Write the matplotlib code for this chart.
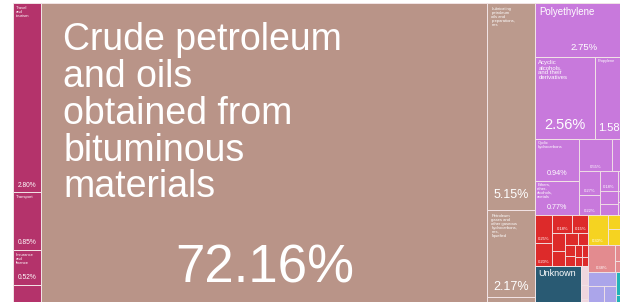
import textwrap
import matplotlib
matplotlib.use("Agg")
import matplotlib.pyplot as plt
from matplotlib.patches import Rectangle

plt.rcParams['font.family'] = ['Liberation Sans', 'DejaVu Sans']

# ============================== Data (share of exports, %) ============================== #
services_names = ["Travel and tourism", "Transport", "Insurance and finance", ""]
services_values = [2.80, 0.85, 0.52, 0.43]

crude_name = "Crude petroleum and oils obtained from bituminous materials"
crude_value = 72.16

fuel_names = ["Lubricating petroleum oils and preparations, nes",
              "Petroleum gases and other gaseous hydrocarbons, nes, liquefied", ""]
fuel_values = [5.15, 2.17, 0.43]

chem_names = ["Polyethylene", "Acyclic alcohols, and their derivatives", "Propylene",
              "Cyclic hydrocarbons", "Ethers, ether-alcohols, acetals"]
chem_values = [2.75, 2.56, 1.58, 0.94, 0.77]
chem_small_values = [0.55, 0.35, 0.27, 0.22, 0.18, 0.15, 0.12, 0.10, 0.08, 0.06, 0.04]

red_values = [0.25, 0.20, 0.18, 0.15, 0.12, 0.10, 0.08, 0.07, 0.06, 0.05, 0.04, 0.04, 0.03, 0.03]
unknown_value = 1.14
misc_values = [0.08, 0.06, 0.04, 0.02]
yellow_values = [0.30, 0.18, 0.12, 0.09]
salmon_values = [0.38, 0.14, 0.10]
lavender_values = [0.20, 0.13, 0.10, 0.08, 0.05, 0.04]
teal_values = [0.20, 0.16]

# colours
c_services = "#b4336b"
c_crude = "#b99488"
c_fuel = "#bb9a8d"
c_chem = "#c879dc"
c_red = "#dd2a2a"
c_yellow = "#f5d321"
c_salmon = "#e38b8f"
c_unknown = "#295a73"
c_misc = "#efd6de"
c_lavender = "#aba5ea"
c_teal = "#22b3b8"

PX = 100 / 72  # pixels per point
X_EDGE = 620


# ============================== Layout helpers ============================== #
def split(rect, values, horizontal):
    x, y, w, h = rect
    total = sum(values)
    out = []
    for v in values:
        if horizontal:
            dw = w * v / total
            out.append((x, y, dw, h))
            x += dw
        else:
            dh = h * v / total
            out.append((x, y, w, dh))
            y += dh
    return out


def worst(row, side):
    s = sum(row)
    return max(max(side * side * r / (s * s), s * s / (side * side * r)) for r in row)


def squarify(rect, values):
    x, y, w, h = rect
    scale = w * h / sum(values)
    areas = [v * scale for v in values]
    out = []
    while areas:
        side = min(w, h)
        row = [areas[0]]
        i = 1
        while i < len(areas) and worst(row + [areas[i]], side) <= worst(row, side):
            row.append(areas[i])
            i += 1
        areas = areas[len(row):]
        s = sum(row)
        if w >= h:
            cw = s / h
            yy = y
            for a in row:
                out.append((x, yy, cw, a / cw))
                yy += a / cw
            x += cw
            w -= cw
        else:
            rh = s / w
            xx = x
            for a in row:
                out.append((xx, y, a / rh, rh))
                xx += a / rh
            y += rh
            h -= rh
    return out


def wrap(text, width):
    return textwrap.fill(text, width, break_long_words=False)


def cell(ax, rect, color, name=None, value=None, name_fs=3.5, pct_fs=5, width=12,
         name_pad=(3, 3), linespacing=1.0, pct_pad=None):
    x, y, w, h = rect
    ax.add_patch(Rectangle((x, y), w, h, facecolor=color, edgecolor="#f2e4e6", lw=0.7))
    if name:
        ax.text(x + name_pad[0], y + name_pad[1], wrap(name, width), color="white",
                fontsize=name_fs, va="top", ha="left", linespacing=linespacing)
    if value is not None:
        pad = pct_pad if pct_pad is not None else 0.55 * pct_fs * PX + 2
        ax.text(x + w / 2, y + h - pad, f"{value:.2f}%", color="white", fontsize=pct_fs,
                va="baseline", ha="center")


def small_cells(ax, rect, values, color):
    for r, v in zip(squarify(rect, values), values):
        x, y, w, h = r
        ax.add_patch(Rectangle((x, y), w, h, facecolor=color, edgecolor="#f2e4e6", lw=0.6))
        if w > 16 and h > 14 and x + w / 2 + 9 < X_EDGE:
            ax.text(x + w / 2, y + h - 3, f"{v:.2f}%", color="white", fontsize=3,
                    va="baseline", ha="center")


# ============================== Draw ============================== #
fig = plt.figure(figsize=(6.2, 3.02), dpi=100)
ax = fig.add_axes([0, 0, 1, 1])
ax.set_xlim(0, X_EDGE)
ax.set_ylim(302, 0)
ax.axis("off")

frame = (13, 3, 619.5, 311)
bottom_total = (sum(red_values) + unknown_value + sum(misc_values) + sum(yellow_values)
                + sum(salmon_values) + sum(lavender_values) + sum(teal_values))
right_total = sum(chem_values) + sum(chem_small_values) + bottom_total
col_services, col_crude, col_fuel, col_right = split(
    frame, [sum(services_values), crude_value, sum(fuel_values), right_total], True)

# services column
for r, n, v in zip(split(col_services, services_values, False), services_names, services_values):
    cell(ax, r, c_services, n or None, v if n else None, name_fs=3, pct_fs=4.8, width=9)

# crude petroleum
cell(ax, col_crude, c_crude, crude_name, crude_value, name_fs=27, pct_fs=38, width=15,
     name_pad=(22, 19), linespacing=1.03)

# other mineral fuels column
for r, n, v in zip(split(col_fuel, fuel_values, False), fuel_names, fuel_values):
    cell(ax, r, c_fuel, n or None, v if n else None, name_fs=3, pct_fs=9, width=13,
         name_pad=(4, 4), pct_pad=12 if v > 5 else 7)

# chemicals and the rest
chem_block, bottom_block = split(col_right, [sum(chem_values) + sum(chem_small_values), bottom_total], False)
poly_r, row2, row3 = split(chem_block, [chem_values[0], chem_values[1] + chem_values[2],
                                        chem_values[3] + chem_values[4] + sum(chem_small_values)], False)
cell(ax, poly_r, c_chem, chem_names[0], chem_values[0], name_fs=7, pct_fs=6.8, width=20, name_pad=(4, 4))
acy_r, prop_r = split(row2, chem_values[1:3], True)
cell(ax, acy_r, c_chem, chem_names[1], chem_values[1], name_fs=4.3, pct_fs=10.5, width=11)
cell(ax, prop_r, c_chem, chem_names[2], chem_values[2], name_fs=2.8, pct_fs=8, width=12, name_pad=(2, 2))
left3, small3 = split(row3, [chem_values[3] + chem_values[4], sum(chem_small_values)], True)
cyc_r, eth_r = split(left3, chem_values[3:5], False)
cell(ax, cyc_r, c_chem, chem_names[3], chem_values[3], name_fs=3, pct_fs=5.2, width=12, name_pad=(2, 2))
cell(ax, eth_r, c_chem, chem_names[4], chem_values[4], name_fs=3, pct_fs=5.2, width=12, name_pad=(2, 2))
small_cells(ax, small3, chem_small_values, c_chem)

# bottom right block
left_b, right_b = split(bottom_block, [sum(red_values) + unknown_value + sum(misc_values),
                                       sum(yellow_values) + sum(salmon_values)
                                       + sum(lavender_values) + sum(teal_values)], True)
red_r, unk_row = split(left_b, [sum(red_values), unknown_value + sum(misc_values)], False)
small_cells(ax, red_r, red_values, c_red)
unk_r, misc_r = split(unk_row, [unknown_value, sum(misc_values)], True)
cell(ax, unk_r, c_unknown, "Unknown", unknown_value, name_fs=6.5, pct_fs=4.5, width=12)
small_cells(ax, misc_r, misc_values, c_misc)
yel_r, sal_r, blue_r = split(right_b, [sum(yellow_values), sum(salmon_values),
                                        sum(lavender_values) + sum(teal_values)], False)
small_cells(ax, yel_r, yellow_values, c_yellow)
small_cells(ax, sal_r, salmon_values, c_salmon)
lav_r, teal_r = split(blue_r, [sum(lavender_values), sum(teal_values)], True)
small_cells(ax, lav_r, lavender_values, c_lavender)
small_cells(ax, teal_r, teal_values, c_teal)

fig.savefig("out.png", dpi=100)
